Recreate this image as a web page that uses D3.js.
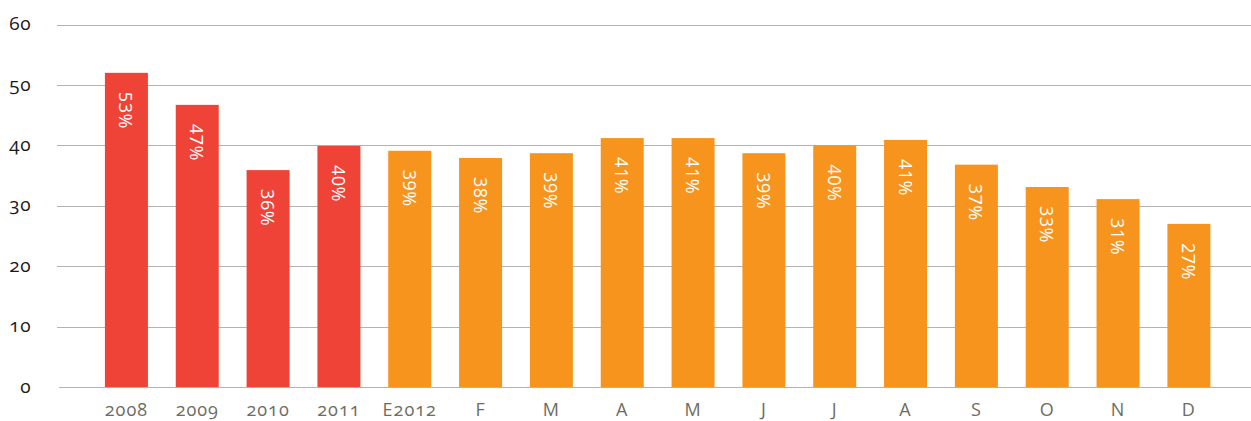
<!DOCTYPE html>
<html>
<head>
<meta charset="utf-8">
<script src="https://cdn.jsdelivr.net/npm/d3@7"></script>
<style>
  html, body { margin: 0; padding: 0; background: #fff; overflow: hidden; }
  svg { display: block; }
  text { font-family: "Open Sans", "Noto Sans", sans-serif; }
  .old { font-variant-numeric: oldstyle-nums; font-feature-settings: "onum" 1; }
  .lin { font-variant-numeric: lining-nums; font-feature-settings: "lnum" 1; }
</style>
</head>
<body>
<svg id="chart" width="1251" height="421"></svg>
<script>
const categories = ["2008","2009","2010","2011","E2012","F","M","A","M","J","J","A","S","O","N","D"];
const values = [52.0, 46.7, 35.9, 39.9, 39.1, 37.9, 38.7, 41.2, 41.2, 38.7, 40.0, 40.9, 36.8, 33.1, 31.1, 27.0];
const pctLabels = ["53%","47%","36%","40%","39%","38%","39%","41%","41%","39%","40%","41%","37%","33%","31%","27%"];
const groups = ["actual","actual","actual","actual","est","est","est","est","est","est","est","est","est","est","est","est"];
const yTicks = [0, 10, 20, 30, 40, 50, 60];

const colors = { actual: "#ef4338", est: "#f7941d" };

const svg = d3.select("#chart");
const y = d3.scaleLinear().domain([0, 60]).range([387, 24.5]);
const x = d3.scaleBand()
  .domain(d3.range(categories.length))
  .range([91, 1224.3])
  .paddingInner(0.393)
  .paddingOuter(0.1965);

// gridlines
svg.append("g").selectAll("line").data(yTicks).join("line")
  .attr("x1", d => d === 0 ? 59 : 57)
  .attr("x2", 1251)
  .attr("y1", d => Math.round(y(d)) + 0.5)
  .attr("y2", d => Math.round(y(d)) + 0.5)
  .attr("stroke", "#b3b3b3")
  .attr("stroke-width", 1);

// y labels
svg.append("g").selectAll("text").data(yTicks).join("text")
  .attr("class", "old")
  .attr("x", 31)
  .attr("y", d => y(d))
  .attr("dy", "0.3em")
  .attr("text-anchor", "end")
  .attr("font-size", 19)
  .attr("letter-spacing", 0.5)
  .attr("fill", "#1a1a1a")
  .text(d => d);

// bars
const idx = d3.range(categories.length);
svg.append("g").selectAll("rect").data(idx).join("rect")
  .attr("x", i => x(i))
  .attr("width", x.bandwidth())
  .attr("y", i => y(values[i]))
  .attr("height", i => y(0) - y(values[i]))
  .attr("fill", i => colors[groups[i]]);

// value labels (rotated)
svg.append("g").selectAll("text").data(idx).join("text")
  .attr("class", "lin")
  .attr("transform", i => `translate(${x(i) + x.bandwidth() / 2},${y(values[i]) + 19}) rotate(90)`)
  .attr("dominant-baseline", "central")
  .attr("text-anchor", "start")
  .attr("font-size", 18)
  .attr("letter-spacing", 0.5)
  .attr("fill", "#ffffff")
  .text(i => pctLabels[i]);

// x labels
svg.append("g").selectAll("text").data(idx).join("text")
  .attr("class", "old")
  .attr("x", i => x(i) + x.bandwidth() / 2)
  .attr("y", 411)
  .attr("dy", "0.3em")
  .attr("text-anchor", "middle")
  .attr("font-size", 18)
  .attr("letter-spacing", 1)
  .attr("fill", "#6d6d62")
  .text(i => categories[i]);
</script>
</body>
</html>
